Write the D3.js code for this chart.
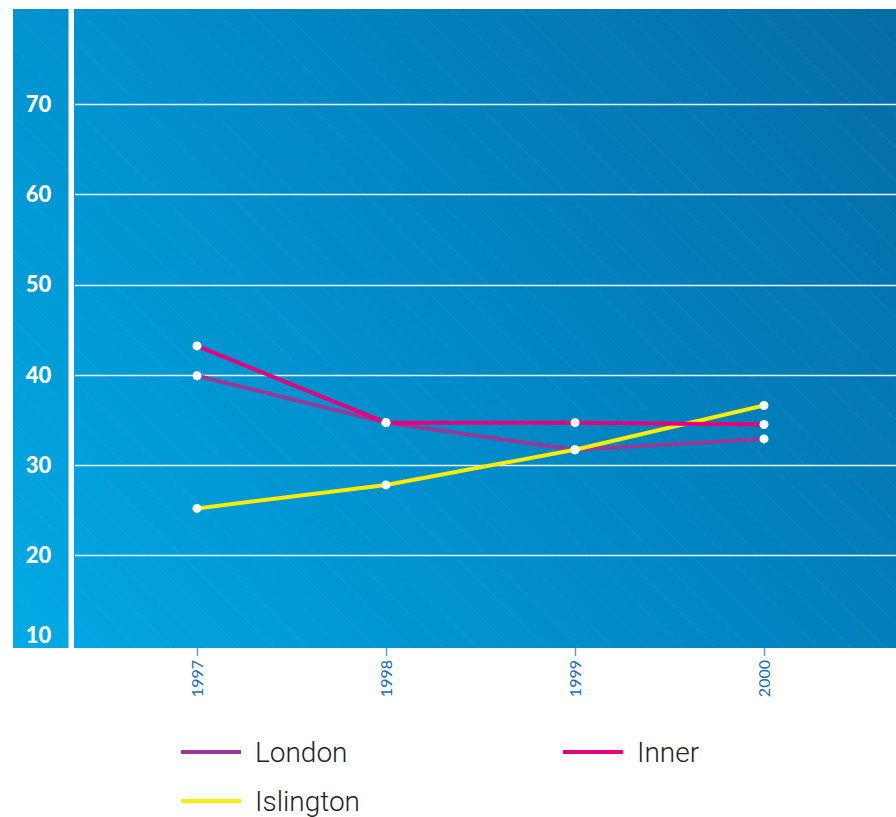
<!DOCTYPE html>
<html>
<head>
<meta charset="utf-8">
<script src="https://cdn.jsdelivr.net/npm/d3@7.9.0/dist/d3.min.js"></script>
<style>
  html, body { margin: 0; padding: 0; background: #fff; }
  svg { display: block; }
</style>
</head>
<body>
<div id="chart"></div>
<script>
// values
const years = ['1997', '1998', '1999', '2000'];
const london = [39.9, 34.7, 31.7, 32.9];
const inner = [43.2, 34.7, 34.7, 34.5];
const islington = [25.2, 27.8, 31.7, 36.6];
const yTicks = [10, 20, 30, 40, 50, 60, 70];

const series = [
  { name: 'London', values: london, color: '#953b97' },
  { name: 'Islington', values: islington, color: '#ffed00' },
  { name: 'Inner', values: inner, color: '#e5007e' },
];

const width = 896;
const height = 817;
const panel = { left: 13, top: 9, right: 896, bottom: 648 };
const plotLeft = 75;

const svg = d3.select('#chart')
  .append('svg')
  .attr('width', width)
  .attr('height', height);

const defs = svg.append('defs');
const grad = defs.append('linearGradient')
  .attr('id', 'bg')
  .attr('gradientUnits', 'userSpaceOnUse')
  .attr('x1', panel.left).attr('y1', panel.bottom)
  .attr('x2', panel.right).attr('y2', panel.top);
grad.append('stop').attr('offset', '0%').attr('stop-color', '#02a9e5');
grad.append('stop').attr('offset', '50%').attr('stop-color', '#0189c6');
grad.append('stop').attr('offset', '100%').attr('stop-color', '#056ca7');

// faint diagonal texture
const pat = defs.append('pattern')
  .attr('id', 'hatch')
  .attr('patternUnits', 'userSpaceOnUse')
  .attr('width', 34).attr('height', 34);
pat.append('path')
  .attr('d', 'M0,0 L34,34 M-17,17 L17,51 M17,-17 L51,17')
  .attr('stroke', '#fff')
  .attr('stroke-opacity', 0.04)
  .attr('stroke-width', 1);

svg.append('rect')
  .attr('x', panel.left).attr('y', panel.top)
  .attr('width', panel.right - panel.left)
  .attr('height', panel.bottom - panel.top)
  .attr('fill', 'url(#bg)');
svg.append('rect')
  .attr('x', panel.left).attr('y', panel.top)
  .attr('width', panel.right - panel.left)
  .attr('height', panel.bottom - panel.top)
  .attr('fill', 'url(#hatch)');

// white divider between labels and plot
svg.append('rect')
  .attr('x', 68.5).attr('y', panel.top)
  .attr('width', 5.5).attr('height', panel.bottom - panel.top)
  .attr('fill', '#fff');

const x = d3.scalePoint()
  .domain(years)
  .range([197, 764]);

const y = d3.scaleLinear()
  .domain([10, 70])
  .range([645.6, 104]);

// gridlines
svg.append('g')
  .selectAll('line')
  .data(yTicks.filter(d => d > 10))
  .join('line')
  .attr('x1', plotLeft)
  .attr('x2', panel.right)
  .attr('y1', d => Math.round(y(d)) + 0.5)
  .attr('y2', d => Math.round(y(d)) + 0.5)
  .attr('stroke', '#fff')
  .attr('stroke-opacity', 0.9)
  .attr('stroke-width', 1.5);

// y labels
svg.append('g')
  .selectAll('text')
  .data(yTicks)
  .join('text')
  .attr('x', 38.5)
  .attr('y', d => d === 10 ? y(d) - 11 : y(d))
  .attr('dy', '0.36em')
  .attr('text-anchor', 'middle')
  .attr('fill', '#fff')
  .style('font-family', 'Lato, "Open Sans", sans-serif')
  .style('font-weight', 900)
  .style('font-size', '22px')
  .text(d => d);

// x axis below panel
const xAxis = svg.append('g')
  .attr('transform', `translate(0, ${panel.bottom})`)
  .call(d3.axisBottom(x).tickSize(8).tickPadding(4));
xAxis.select('.domain').remove();
xAxis.selectAll('.tick line')
  .attr('stroke', '#5b9fd0')
  .attr('stroke-width', 1.5);
xAxis.selectAll('.tick text')
  .attr('transform', 'rotate(-90)')
  .attr('x', -12)
  .attr('y', 0)
  .attr('dy', '0.35em')
  .attr('text-anchor', 'end')
  .attr('fill', '#1a6dae')
  .style('font-family', 'Lato, "Open Sans", sans-serif')
  .style('font-weight', 400)
  .style('font-size', '16px')
  .text(d => d);

// lines
const line = d3.line()
  .x((d, i) => x(years[i]))
  .y(d => y(d));

svg.append('g')
  .selectAll('path')
  .data(series)
  .join('path')
  .attr('d', d => line(d.values))
  .attr('fill', 'none')
  .attr('stroke', d => d.color)
  .attr('stroke-width', 4)
  .attr('stroke-linejoin', 'round');

// markers
svg.append('g')
  .selectAll('g')
  .data(series)
  .join('g')
  .selectAll('circle')
  .data(d => d.values)
  .join('circle')
  .attr('cx', (d, i) => x(years[i]))
  .attr('cy', d => y(d))
  .attr('r', 4.5)
  .attr('fill', '#fff');

// legend
const legendItems = [
  { name: 'London', color: '#953b97', x: 181, y: 752 },
  { name: 'Inner', color: '#e5007e', x: 563, y: 752 },
  { name: 'Islington', color: '#ffed00', x: 181, y: 801 },
];
const legend = svg.append('g')
  .selectAll('g')
  .data(legendItems)
  .join('g')
  .attr('transform', d => `translate(${d.x}, ${d.y})`);
legend.append('line')
  .attr('x1', 0).attr('x2', 60)
  .attr('stroke', d => d.color)
  .attr('stroke-width', 4);
legend.append('text')
  .attr('x', 74)
  .attr('dy', '0.35em')
  .attr('fill', '#231f20')
  .style('font-family', 'Roboto, sans-serif')
  .style('font-weight', 300)
  .style('font-size', '28px')
  .text(d => d.name);
</script>
</body>
</html>
